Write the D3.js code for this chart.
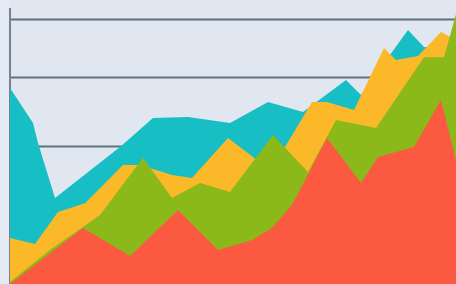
<!DOCTYPE html>
<meta charset="utf-8">
<style>
body { margin: 0; background: #e4ebf4; }
.grid line { stroke: #5e717d; stroke-width: 2px; }
.grid path { display: none; }
</style>
<body>
<script src="https://d3js.org/d3.v7.min.js"></script>
<script>
var width = 456,
    height = 284;

// data (x in days, y in units)
var tealX   = [0, 2.3, 2.8, 4.5, 11.0, 14.3, 17.8, 22.0, 25.8, 29.3, 33.6, 35.1, 39.8, 41.4, 44.6];
var tealY   = [71.0, 58.3, 51.1, 31.2, 49.6, 60.1, 60.5, 58.3, 65.9, 62.3, 73.9, 68.5, 92.0, 85.9, 84.8];

var yellowX = [0, 2.5, 4.8, 7.5, 11.3, 13.0, 16.2, 18.2, 21.8, 24.7, 27.5, 30.2, 31.7, 34.4, 37.4, 38.6, 40.8, 43.1, 44.6];
var yellowY = [16.7, 14.5, 26.1, 29.3, 43.1, 43.1, 39.5, 38.4, 52.9, 44.9, 49.6, 65.9, 65.9, 63.0, 85.5, 81.2, 82.6, 91.3, 88.4];

var greenX  = [0, 4.0, 9.0, 13.3, 16.2, 19.0, 22.0, 26.3, 29.8, 32.6, 36.6, 41.4, 43.4, 45.0];
var greenY  = [0.7, 12.3, 25.0, 45.7, 31.2, 36.6, 33.3, 54.0, 40.6, 59.4, 56.5, 82.2, 82.2, 102.9];

var redX    = [0, 7.3, 12.0, 16.8, 20.8, 24.2, 26.2, 28.2, 31.7, 35.1, 36.8, 40.4, 43.1, 44.6];
var redY    = [0, 20.3, 10.1, 26.8, 12.3, 15.9, 20.3, 28.6, 52.9, 36.6, 46.0, 49.6, 66.7, 44.9];

var gridTicks = [50, 75, 96];

var series = [
  {x: tealX, y: tealY, color: "#17bfc5"},
  {x: yellowX, y: yellowY, color: "#fbb92a"},
  {x: greenX, y: greenY, color: "#8bb919"},
  {x: redX, y: redY, color: "#fc5a40"}
];

var x = d3.scaleLinear().domain([0, 44.6]).range([10, 456]);
var y = d3.scaleLinear().domain([0, 100]).range([284, 8]);

var svg = d3.select("body").append("svg")
    .attr("width", width)
    .attr("height", height)
    .style("display", "block");

svg.append("rect")
    .attr("x", 10).attr("y", 0)
    .attr("width", width - 10).attr("height", height)
    .attr("fill", "#e0e7f0");

svg.append("clipPath").attr("id", "clip")
  .append("rect")
    .attr("x", 10).attr("y", 0)
    .attr("width", width - 10).attr("height", height);

// gridlines
svg.append("g")
    .attr("class", "grid")
    .attr("transform", "translate(10,0)")
    .call(d3.axisLeft(y).tickValues(gridTicks).tickSize(-(width - 10)).tickFormat(""));

// y axis line
svg.append("line")
    .attr("x1", 10).attr("x2", 10)
    .attr("y1", y(100)).attr("y2", y(0))
    .attr("stroke", "#73848f")
    .attr("stroke-width", 2);

var area = d3.area()
    .x(function(d) { return x(d[0]); })
    .y0(y(0))
    .y1(function(d) { return y(d[1]); });

svg.append("g")
    .attr("clip-path", "url(#clip)")
  .selectAll("path")
  .data(series)
  .enter().append("path")
    .attr("d", function(s) { return area(d3.zip(s.x, s.y)); })
    .attr("fill", function(s) { return s.color; });
</script>
</body>
</html>
